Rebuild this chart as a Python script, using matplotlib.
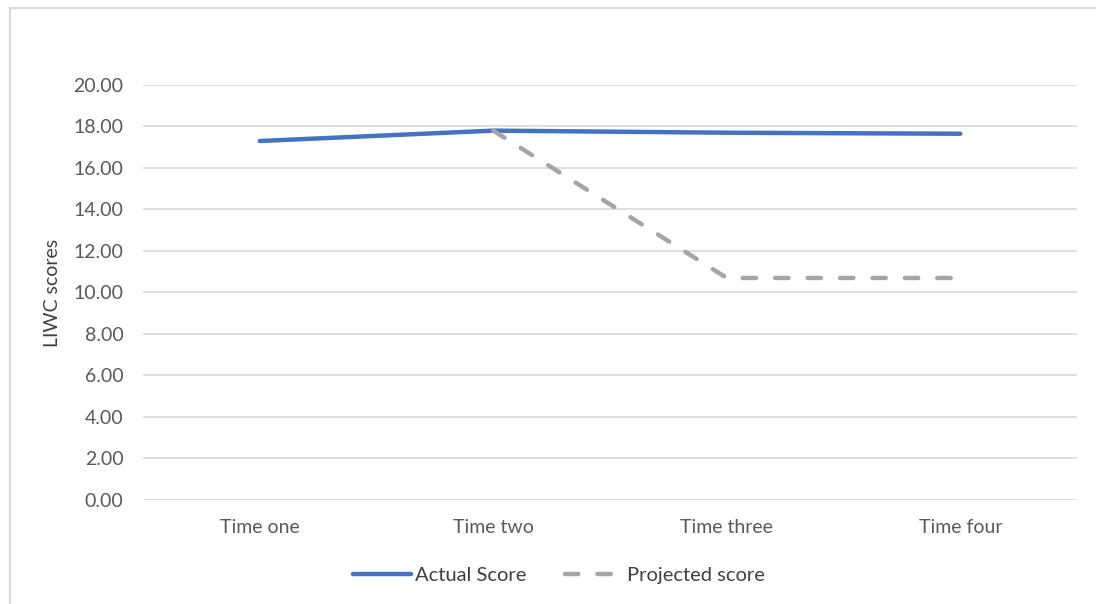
import matplotlib.pyplot as plt
from matplotlib.lines import Line2D

plt.rcParams["font.family"] = ["Lato", "DejaVu Sans"]

times = ["Time one", "Time two", "Time three", "Time four"]
actual_score = [17.30, 17.80, 17.70, 17.65]
projected_score = [None, 17.80, 10.70, 10.70]
y_ticks = [0, 2, 4, 6, 8, 10, 12, 14, 16, 18, 20]

text_color = "#595959"

fig = plt.figure(figsize=(10.96, 6.04), dpi=100)
ax = fig.add_axes([0.1305, 0.1722, 0.8522, 0.6871])

x = list(range(len(times)))
ax.plot(x, actual_score, color="#4472c4", linewidth=3.2,
        solid_capstyle="round", label="Actual Score")
proj_x = [i for i, v in zip(x, projected_score) if v is not None]
proj_y = [v for v in projected_score if v is not None]
ax.plot(proj_x, proj_y, color="#a5a5a5", linewidth=3.2,
        dashes=(3.0, 4.3), dash_capstyle="round", label="Projected score")

ax.set_xlim(-0.5, len(times) - 0.5)
ax.set_ylim(0, 20)
ax.set_yticks(y_ticks, labels=[f"{v:.2f}" for v in y_ticks])
ax.set_xticks(x, labels=times)
ax.tick_params(length=0, labelsize=14, labelcolor=text_color)
ax.tick_params(axis="y", pad=14)
ax.tick_params(axis="x", pad=14)
ax.grid(axis="y", color="#d9d9d9", linewidth=1.2)
ax.set_axisbelow(True)
for spine in ax.spines.values():
    spine.set_visible(False)

ax.set_ylabel("LIWC scores", fontsize=14, color="#404040", labelpad=9)

fig.legend(loc="lower center", bbox_to_anchor=(0.51, 0.003), ncol=2,
           frameon=False, fontsize=14.5, labelcolor="#404040",
           handlelength=2.9, handletextpad=0.2, columnspacing=1.9)

# outer chart frame (only left and top edges visible)
fig.add_artist(Line2D([0.0091, 0.0091], [0, 0.987], color="#d9d9d9",
                      linewidth=1.5, transform=fig.transFigure))
fig.add_artist(Line2D([0.0091, 1.0], [0.987, 0.987], color="#d9d9d9",
                      linewidth=1.5, transform=fig.transFigure))

fig.savefig("out.png", dpi=100)
